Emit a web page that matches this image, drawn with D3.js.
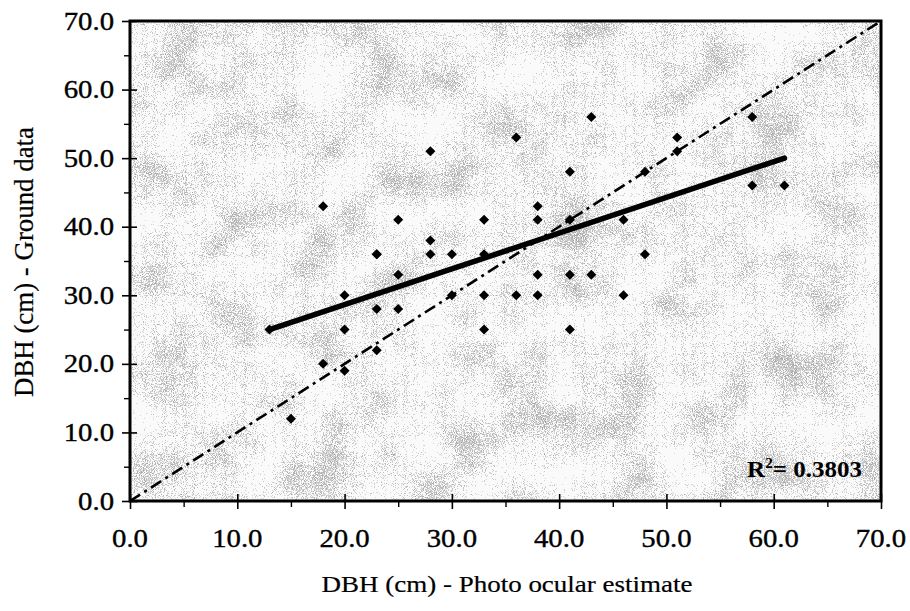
<!DOCTYPE html>
<html>
<head>
<meta charset="utf-8">
<script src="https://cdn.jsdelivr.net/npm/d3@7/dist/d3.min.js"></script>
<style>
  html, body { margin: 0; padding: 0; background: #ffffff; }
  svg { display: block; }
</style>
</head>
<body>
<svg id="chart" width="910" height="611" font-family="'Liberation Serif', 'Times New Roman', Times, serif"></svg>
<script>
// ---- data ----
const photoEstimate = [13, 15, 18, 18, 20, 20, 20, 23, 23, 23, 23, 25, 25, 25, 28, 28, 28, 30, 30,
  33, 33, 33, 33, 36, 36, 38, 38, 38, 38, 41, 41, 41, 41, 43, 43, 46, 46, 48, 48, 51, 51, 58, 58, 61];
const groundData = [25, 12, 43, 20, 30, 25, 19, 36, 28, 22, 36, 41, 33, 28, 51, 38, 36, 36, 30,
  41, 36, 30, 25, 53, 30, 43, 41, 33, 30, 48, 41, 33, 25, 56, 33, 41, 30, 48, 36, 53, 51, 56, 46, 46];
const xTickValues = [0, 10, 20, 30, 40, 50, 60, 70];
const yTickValues = [0, 10, 20, 30, 40, 50, 60, 70];
const minorTickValues = [5, 15, 25, 35, 45, 55, 65];
const trendSlope = 0.5208;
const trendIntercept = 18.23;
const oneToOne = [0, 70];
const rSquaredLabel = "0.3803";
const xTitle = "DBH (cm) - Photo ocular estimate";
const yTitle = "DBH (cm) - Ground data";

(function () {
const svg = d3.select("#chart");
const pL = 130, pR = 881, pT = 21, pB = 501;
const x = d3.scaleLinear().domain([0, 70]).range([pL, pR]);
const y = d3.scaleLinear().domain([0, 70]).range([pB, pT]);

// speckled background texture (scan-like)
const defs = svg.append("defs");
const f = defs.append("filter").attr("id", "grain")
  .attr("x", 0).attr("y", 0).attr("width", 1).attr("height", 1)
  .attr("color-interpolation-filters", "sRGB");
f.append("feTurbulence").attr("type", "fractalNoise").attr("baseFrequency", 1.1)
  .attr("numOctaves", 1).attr("seed", 4).attr("result", "fine");
f.append("feTurbulence").attr("type", "fractalNoise").attr("baseFrequency", 0.02)
  .attr("numOctaves", 3).attr("seed", 11).attr("result", "coarse");
f.append("feColorMatrix").attr("in", "fine").attr("type", "matrix")
  .attr("values", "0 0 0 0 0  0 0 0 0 0  0 0 0 0 0  1 0 0 0 0").attr("result", "fa");
f.append("feColorMatrix").attr("in", "coarse").attr("type", "matrix")
  .attr("values", "0 0 0 0 0  0 0 0 0 0  0 0 0 0 0  1 0 0 0 0").attr("result", "ca");
f.append("feComposite").attr("in", "fa").attr("in2", "ca").attr("operator", "arithmetic")
  .attr("k1", 0).attr("k2", 1).attr("k3", 0.45).attr("k4", -0.2).attr("result", "mix");
const ct = f.append("feComponentTransfer").attr("in", "mix").attr("result", "dots");
ct.append("feFuncA").attr("type", "discrete")
  .attr("tableValues", "0 0 0 0 0 0 0 0 0 0 0 0 0.45 0.6 0.75 0.9 1 1 1 1");
f.append("feFlood").attr("flood-color", "#a8a8a8").attr("result", "col");
f.append("feComposite").attr("in", "col").attr("in2", "dots").attr("operator", "in");

svg.append("rect").attr("x", pL).attr("y", pT)
  .attr("width", pR - pL).attr("height", pB - pT).attr("fill", "#fafafa");
svg.append("rect").attr("x", pL).attr("y", pT)
  .attr("width", pR - pL).attr("height", pB - pT)
  .attr("fill", "#fff").attr("filter", "url(#grain)");

// 1:1 dash-dot line
svg.append("line")
  .attr("x1", x(oneToOne[0])).attr("y1", y(oneToOne[0]))
  .attr("x2", x(oneToOne[1])).attr("y2", y(oneToOne[1]))
  .attr("stroke", "#000").attr("stroke-width", 2.6)
  .attr("stroke-dasharray", "12 5 3 5");

// points
const pts = photoEstimate.map((v, i) => ({ px: v, gy: groundData[i] }));
svg.append("g").selectAll("path").data(pts).join("path")
  .attr("d", d3.symbol(d3.symbolSquare, 50))
  .attr("transform", d => `translate(${x(d.px)},${y(d.gy)}) rotate(45)`)
  .attr("fill", "#000");

// trend line
const tx = d3.extent(photoEstimate);
svg.append("line")
  .attr("x1", x(tx[0])).attr("y1", y(trendIntercept + trendSlope * tx[0]))
  .attr("x2", x(tx[1])).attr("y2", y(trendIntercept + trendSlope * tx[1]))
  .attr("stroke", "#000").attr("stroke-width", 5.5).attr("stroke-linecap", "round");

// frame
svg.append("rect").attr("x", pL).attr("y", pT)
  .attr("width", pR - pL).attr("height", pB - pT)
  .attr("fill", "none").attr("stroke", "#000").attr("stroke-width", 3);

// axes
const xg = svg.append("g").attr("transform", `translate(0,${pB})`)
  .call(d3.axisBottom(x).tickValues(xTickValues).tickSize(8).tickFormat(""));
xg.select(".domain").remove();
xg.selectAll(".tick line").attr("y1", -7).attr("stroke-width", 1.6);
const xMinor = svg.append("g").attr("transform", `translate(0,${pB})`)
  .call(d3.axisBottom(x).tickValues(minorTickValues).tickSize(6).tickFormat(""));
xMinor.select(".domain").remove();
xMinor.selectAll(".tick line").attr("stroke-width", 1.4);

const yg = svg.append("g").attr("transform", `translate(${pL},0)`)
  .call(d3.axisLeft(y).tickValues(yTickValues).tickSize(8).tickFormat(""));
yg.select(".domain").remove();
yg.selectAll(".tick line").attr("x1", 7).attr("stroke-width", 1.6);
const yMinor = svg.append("g").attr("transform", `translate(${pL},0)`)
  .call(d3.axisLeft(y).tickValues(minorTickValues).tickSize(6).tickFormat(""));
yMinor.select(".domain").remove();
yMinor.selectAll(".tick line").attr("stroke-width", 1.4);

const fmt = d3.format(".1f");
const sx = 1.15;
svg.append("g").selectAll("g").data(xTickValues).join("g")
  .attr("transform", d => `translate(${x(d)},547) scale(${sx},1)`)
  .append("text").attr("text-anchor", "middle").attr("font-size", 25)
  .attr("stroke", "#000").attr("stroke-width", 0.35).text(d => fmt(d));
svg.append("g").selectAll("g").data(yTickValues).join("g")
  .attr("transform", d => `translate(114,${y(d) + 8.5}) scale(${sx},1)`)
  .append("text").attr("text-anchor", "end").attr("font-size", 25)
  .attr("stroke", "#000").attr("stroke-width", 0.35).text(d => fmt(d));

// titles
const xt = svg.append("g").attr("transform", `translate(507,592)`);
const xtText = xt.append("text").attr("text-anchor", "middle").attr("font-size", 23)
  .attr("stroke", "#000").attr("stroke-width", 0.2).text(xTitle);
const xw = xtText.node().getComputedTextLength();
xt.attr("transform", `translate(507,592) scale(${371 / xw},1)`);

const ytG = svg.append("g").attr("transform", `translate(33,262) rotate(-90)`);
ytG.append("text").attr("text-anchor", "middle").attr("font-size", 27)
  .attr("stroke", "#000").attr("stroke-width", 0.2)
  .attr("textLength", 270).attr("lengthAdjust", "spacingAndGlyphs").text(yTitle);

// R^2 label
const rg = svg.append("g").attr("transform", `translate(862,477)`);
const rt = rg.append("text").attr("text-anchor", "end").attr("font-size", 23).attr("font-weight", "bold");
rt.append("tspan").text("R");
rt.append("tspan").attr("font-size", 14).attr("dy", -9).text("2");
rt.append("tspan").attr("dy", 9).text("= " + rSquaredLabel);
const rb = rt.node().getBBox();
rg.attr("transform", `translate(862,477) scale(${115 / rb.width},1)`);
})();
</script>
</body>
</html>
